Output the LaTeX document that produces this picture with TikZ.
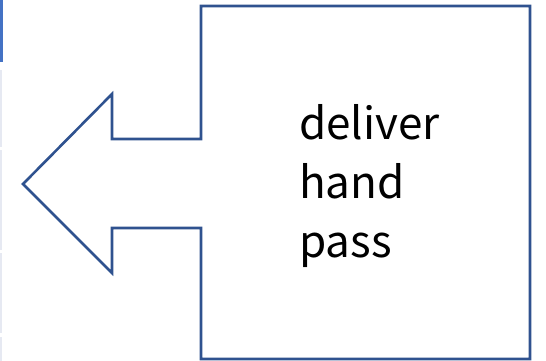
\documentclass[tikz,border=0pt]{standalone}
\usepackage{fontspec}
\newfontfamily\jpfont{Noto Sans CJK JP}
\definecolor{edge}{HTML}{2F528F}
\definecolor{bar}{HTML}{4472C4}
\definecolor{faint}{HTML}{E6E9F2}
\begin{document}
\begin{tikzpicture}[x=1pt,y=-1pt,
  outline/.style={draw=edge,line width=2.6pt,line join=miter},
  lbl/.style={inner sep=0pt,anchor=base west,font=\jpfont\fontsize{44}{59}\selectfont}]
\useasboundingbox (0,0) rectangle (546,361);
\fill[bar] (0,0) rectangle (2.5,62);
\fill[faint] (0,70) rectangle (1.5,147);
\fill[faint] (0,150) rectangle (1.5,250);
\fill[faint] (0,253) rectangle (1.5,333);
\fill[faint] (0,337) rectangle (1.5,361);
\draw[outline] (201,6) -- (530,6) -- (530,359) -- (201,359) -- (201,228)
  -- (112,228) -- (112,273) -- (23,184) -- (112,94) -- (112,139) -- (201,139) -- cycle;
\node[lbl] (l1) at (299,139) {deliver};
\node[lbl] (l2) at (299,198) {hand};
\node[lbl] (l3) at (299,257) {pass};
\end{tikzpicture}
\end{document}
